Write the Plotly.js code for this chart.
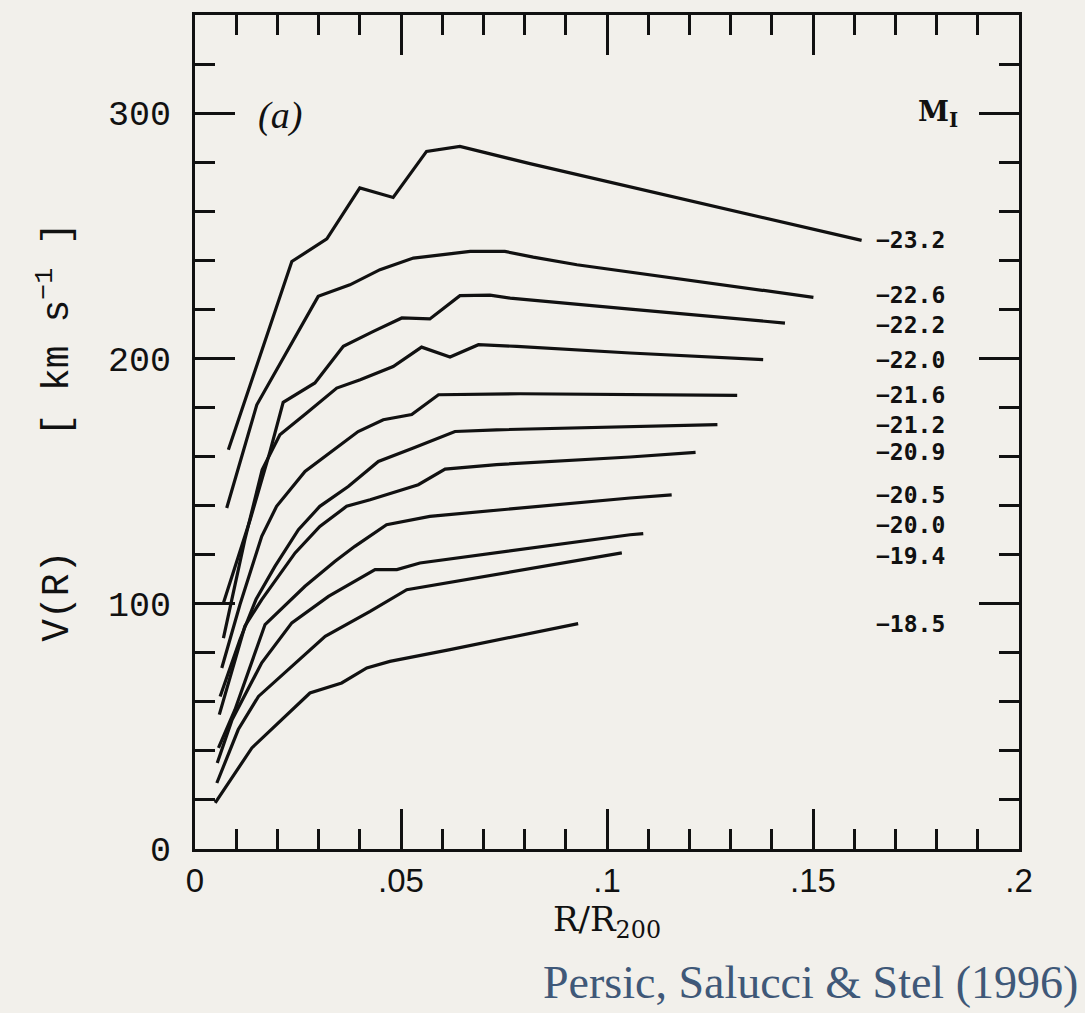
<!DOCTYPE html>
<html>
<head>
<meta charset="utf-8">
<script src="https://cdn.plot.ly/plotly-3.0.1.min.js"></script>
<style>
html,body{margin:0;padding:0;background:#f2f0eb;}
#chart{width:1085px;height:1013px;}
</style>
</head>
<body>
<div id="chart"></div>
<script>
// Absolute I-band magnitude of each curve
const magnitudes = ["−23.2","−22.6","−22.2","−22.0","−21.6","−21.2","−20.9","−20.5","−20.0","−19.4","−18.5"];

// R/R200 and V(R) [km/s] for each curve
const r_232 = [0.0081,0.0235,0.0320,0.0400,0.0481,0.0562,0.0643,0.0813,0.1618];
const v_232 = [162.8,239.5,248.7,269.5,265.6,284.4,286.4,279.4,248.1];

const r_226 = [0.0077,0.0150,0.0299,0.0376,0.0449,0.0530,0.0668,0.0752,0.0821,0.0927,0.1501];
const v_226 = [139.0,181.1,225.3,230.0,236.2,240.9,243.6,243.6,241.3,238.2,224.9];

const r_222 = [0.0069,0.0134,0.0182,0.0214,0.0291,0.0360,0.0433,0.0502,0.0570,0.0643,0.0716,0.0765,0.1056,0.1432];
const v_222 = [100.3,134.3,162.0,182.1,190.0,204.9,211.0,216.5,216.1,225.6,225.8,224.6,220.1,214.4];

const r_220 = [0.0069,0.0121,0.0163,0.0206,0.0271,0.0344,0.0401,0.0481,0.0550,0.0619,0.0688,0.0781,0.1056,0.1379];
const v_220 = [86.0,126.1,154.6,168.9,177.7,187.9,191.3,196.7,204.6,200.6,205.6,204.9,202.2,199.5];

const r_216 = [0.0065,0.0109,0.0162,0.0198,0.0267,0.0336,0.0396,0.0457,0.0526,0.0591,0.0789,0.1316];
const v_216 = [73.8,99.6,127.5,139.7,153.9,162.8,170.2,175.0,177.1,185.2,185.6,184.9];

const r_212 = [0.0061,0.0109,0.0148,0.0194,0.0251,0.0303,0.0372,0.0445,0.0530,0.0631,0.0732,0.1056,0.1268];
const v_212 = [62.2,85.3,101.7,115.2,130.2,139.7,147.8,158.0,163.5,170.2,170.9,172.3,173.0];

const r_209 = [0.0059,0.0121,0.0162,0.0243,0.0303,0.0368,0.0425,0.0542,0.0607,0.0732,0.1056,0.1215];
const v_209 = [54.8,90.8,101.7,120.7,131.5,139.7,142.4,148.5,154.9,156.7,159.8,161.7];

const r_205 = [0.0057,0.0097,0.0170,0.0267,0.0340,0.0388,0.0465,0.0570,0.1056,0.1157];
const v_205 = [41.2,56.8,91.5,107.1,117.3,123.4,132.2,135.6,143.1,144.4];

const r_200 = [0.0054,0.0090,0.0162,0.0235,0.0324,0.0437,0.0490,0.0546,0.1056,0.1088];
const v_200 = [35.1,52.7,75.9,92.2,103.0,113.9,113.9,116.6,128.1,128.6];

const r_194 = [0.0053,0.0105,0.0154,0.0316,0.0425,0.0514,0.1036];
const v_194 = [26.9,48.7,62.2,86.7,96.9,105.7,120.7];

const r_185 = [0.0049,0.0138,0.0279,0.0356,0.0417,0.0473,0.0619,0.0930];
const v_185 = [18.8,41.2,63.6,67.7,73.8,76.5,81.3,91.9];

const radii = [r_232,r_226,r_222,r_220,r_216,r_212,r_209,r_205,r_200,r_194,r_185];
const speeds = [v_232,v_226,v_222,v_220,v_216,v_212,v_209,v_205,v_200,v_194,v_185];

// Axis ticks
const xTickVals = [0,0.05,0.1,0.15,0.2];
const xTickText = ["0",".05",".1",".15",".2"];
const yTickVals = [0,100,200,300];
const yTickText = ["0","100","200","300"];

const ink = "#111111";
const paper = "#f2f0eb";

const traces = radii.map((r,i)=>({
  type:"scatter", mode:"lines", name:magnitudes[i],
  x:r, y:speeds[i],
  line:{color:ink, width:3.2},
  hoverinfo:"skip", showlegend:false
}));

// small vertical pixel nudges so crowded labels do not collide
const labelNudgePx = {"−22.6":2, "−22.2":-2, "−20.0":9, "−19.4":-3};

const curveLabels = speeds.map((v,i)=>({
  x:0.1648, xref:"x", y:v[v.length-1], yref:"y",
  yshift:labelNudgePx[magnitudes[i]] || 0,
  text:magnitudes[i], showarrow:false, xanchor:"left", yanchor:"middle",
  font:{family:"DejaVu Sans Mono", size:23, color:ink, weight:700}
}));

const layout = {
  width:1085, height:1013,
  paper_bgcolor:paper, plot_bgcolor:paper,
  margin:{l:195, r:66, t:15, b:164},
  showlegend:false,
  xaxis:{
    range:[0,0.2], showgrid:false, zeroline:false,
    showline:true, linecolor:ink, linewidth:3, mirror:"allticks",
    ticks:"inside", ticklen:40, tickwidth:3, tickcolor:ink,
    tickmode:"array", tickvals:xTickVals, ticktext:xTickText,
    ticklabelstandoff:0,
    tickfont:{family:"Liberation Sans", size:33, color:ink},
    minor:{tickmode:"linear", tick0:0, dtick:0.01, ticks:"inside", ticklen:20, tickwidth:3, tickcolor:ink, showgrid:false},
    title:{text:"R/R<sub>200</sub>", font:{family:"DejaVu Serif", size:34, color:ink}, standoff:6}
  },
  yaxis:{
    range:[0,340], showgrid:false, zeroline:false,
    showline:true, linecolor:ink, linewidth:3, mirror:"allticks",
    ticks:"inside", ticklen:40, tickwidth:3, tickcolor:ink,
    tickmode:"array", tickvals:yTickVals, ticktext:yTickText,
    ticklabelstandoff:14,
    tickfont:{family:"Liberation Mono", size:35, color:ink},
    minor:{tickmode:"linear", tick0:0, dtick:20, ticks:"inside", ticklen:20, tickwidth:3, tickcolor:ink, showgrid:false},
    title:{text:"V(R)" + "\u00A0".repeat(5) + "[ km s<sup>−1</sup> ]", font:{family:"Liberation Mono", size:38, color:ink}, standoff:28}
  },
  annotations:[
    ...curveLabels,
    {x:0.0206, xref:"x", y:299, yref:"y", text:"(a)", showarrow:false, xanchor:"center", yanchor:"middle",
     font:{family:"Liberation Serif", size:38, color:ink, style:"italic"}},
    {x:0.1803, xref:"x", y:300, yref:"y", text:"M<sub>I</sub>", showarrow:false, xanchor:"center", yanchor:"middle",
     font:{family:"DejaVu Serif", size:28, color:ink, weight:700}},
    {x:1.074, xref:"paper", y:-0.1925, yref:"paper", text:"Persic, Salucci &amp; Stel (1996)", showarrow:false,
     xanchor:"right", yanchor:"bottom", font:{family:"Liberation Serif", size:46, color:"#3f5878"}}
  ]
};

Plotly.newPlot("chart", traces, layout, {displayModeBar:false, staticPlot:true});
</script>
</body>
</html>
